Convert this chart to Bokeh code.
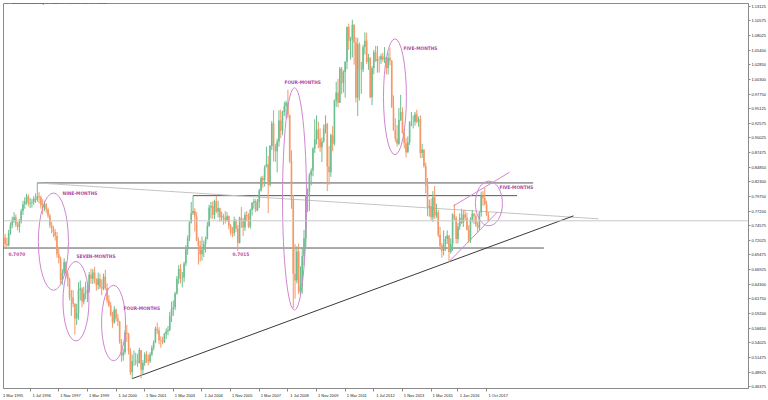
from bokeh.plotting import figure
from bokeh.models import Range1d, FixedTicker, Span, Label, ColumnDataSource
from bokeh.core.properties import value
from bokeh.embed import file_html
from bokeh.resources import INLINE

# ---------------- data: AUDUSD monthly bars, first bar = Mar 1995 ----------------
first_open = 0.7330
close = [
    .7280, .7250, .7140, .7120, .7330, .7470, .7560, .7610, .7480, .7440,                 # 1995 Mar-Dec
    .7530, .7720, .7840, .7890, .7980, .7850, .7870, .7880, .7940, .7920, .7980, .7960,   # 1996
    .7820, .7780, .7840, .7750, .7640, .7470, .7420, .7350, .7280, .6960, .6890, .6510,   # 1997
    .6630, .6820, .6620, .6520, .6200, .6200, .6090, .5830, .5930, .6330, .6360, .6130,   # 1998
    .6270, .6280, .6330, .6600, .6530, .6640, .6500, .6420, .6530, .6380, .6360, .6570,   # 1999
    .6370, .6150, .6060, .5890, .5760, .5990, .5830, .5780, .5430, .5180, .5240, .5580,   # 2000
    .5560, .5260, .4890, .5080, .5080, .5090, .5050, .5280, .4930, .5050, .5200, .5110,   # 2001
    .5080, .5200, .5320, .5410, .5650, .5620, .5450, .5440, .5420, .5560, .5610, .5630,   # 2002
    .5870, .6000, .6030, .6270, .6530, .6700, .6550, .6550, .6800, .7050, .7240, .7520,   # 2003
    .7680, .7720, .7620, .7200, .7110, .6960, .7040, .7140, .7230, .7460, .7780, .7810,   # 2004
    .7650, .7890, .7710, .7770, .7610, .7630, .7600, .7560, .7630, .7460, .7340, .7330,   # 2005
    .7550, .7410, .7160, .7600, .7560, .7430, .7650, .7630, .7450, .7740, .7860, .7890,   # 2006
    .7730, .7880, .8080, .8300, .8260, .8490, .8540, .8180, .8860, .9260, .8850, .8770,   # 2007
    .8940, .9310, .9130, .9460, .9560, .9620, .9410, .8600, .7930, .6620, .6500, .7010,   # 2008
    .6300, .6390, .6930, .7240, .7990, .8060, .8350, .8430, .8820, .8980, .9150, .8990,   # 2009
    .8840, .8940, .9170, .9250, .8500, .8400, .9050, .8900, .9660, .9800, .9620, 1.0220,  # 2010
    .9970, 1.0160, 1.0340, 1.0950, 1.0710, 1.0730, 1.0990, 1.0680, .9710, 1.0650, 1.0200, 1.0200,  # 2011
    1.0600, 1.0710, 1.0340, 1.0410, .9720, 1.0230, 1.0510, 1.0350, 1.0390, 1.0380, 1.0440, 1.0380, # 2012
    1.0420, 1.0230, 1.0410, 1.0360, .9550, .9140, .8990, .8900, .9320, .9460, .9090, .8910,  # 2013
    .8750, .8930, .9280, .9290, .9290, .9420, .9290, .9330, .8740, .8800, .8510, .8170,   # 2014
    .7780, .7810, .7610, .7960, .7640, .7700, .7300, .7110, .7020, .7130, .7230, .7290,   # 2015
    .7000, .7140, .7660, .7600, .7230, .7450, .7600, .7510, .7660, .7600, .7390, .7210,   # 2016
    .7570, .7670, .7630, .7480, .7430, .7690, .7990, .7950, .7840, .7650, .7548,          # 2017 Jan-Nov
]
high = [
    .7400, .7370, .7320, .7250, .7390, .7520, .7620, .7700, .7660, .7530,
    .7580, .7760, .7900, .7960, .8020, .8010, .7950, .7930, .7980, .8030, .8213, .8050,
    .7990, .7930, .7900, .7860, .7780, .7670, .7530, .7460, .7400, .7350, .7090, .6920,
    .6700, .6890, .6840, .6650, .6550, .6330, .6330, .6100, .6090, .6470, .6500, .6380,
    .6390, .6480, .6430, .6650, .6710, .6700, .6740, .6540, .6640, .6620, .6520, .6620,
    .6690, .6450, .6240, .6120, .5950, .6050, .6010, .5910, .5790, .5470, .5300, .5630,
    .5720, .5580, .5310, .5200, .5270, .5230, .5210, .5320, .5280, .5100, .5240, .5260,
    .5200, .5240, .5360, .5450, .5690, .5760, .5680, .5520, .5510, .5580, .5660, .5700,
    .5950, .6130, .6150, .6300, .6580, .6770, .6790, .6650, .6830, .7120, .7290, .7540,
    .7880, .7990, .7770, .7700, .7260, .7200, .7270, .7200, .7270, .7530, .7830, .7880,
    .7890, .7920, .7990, .7900, .7780, .7710, .7670, .7720, .7700, .7640, .7490, .7440,
    .7620, .7580, .7470, .7620, .7790, .7600, .7700, .7720, .7680, .7760, .7880, .7940,
    .7930, .7930, .8110, .8330, .8340, .8520, .8850, .8690, .8880, .9300, .9490, .8900,
    .8990, .9490, .9500, .9480, .9640, .9660, .9850, .9410, .8790, .8000, .7140, .7100,
    .7150, .6750, .7080, .7390, .8000, .8120, .8390, .8470, .8840, .9330, .9400, .9290,
    .9170, .9010, .9240, .9400, .9270, .8860, .9080, .9210, .9680, .9990, 1.0040, 1.0250,
    1.0250, 1.0190, 1.0350, 1.0960, 1.1010, 1.0780, 1.1080, 1.1000, 1.0770, 1.0760, 1.0680, 1.0340,
    1.0640, 1.0860, 1.0850, 1.0480, 1.0420, 1.0270, 1.0550, 1.0620, 1.0620, 1.0440, 1.0480, 1.0500,
    1.0600, 1.0420, 1.0500, 1.0590, 1.0370, .9750, .9350, .9230, .9530, .9760, .9540, .9160,
    .9000, .9030, .9300, .9460, .9400, .9460, .9500, .9380, .9400, .8900, .8800, .8570,
    .8300, .7920, .7940, .8070, .8160, .7850, .7740, .7440, .7160, .7380, .7280, .7380,
    .7190, .7240, .7680, .7840, .7630, .7510, .7680, .7760, .7730, .7740, .7690, .7470,
    .7610, .7740, .7690, .7660, .7530, .7710, .8060, .8070, .8125, .7900, .7700,
]
low = [
    .7190, .7120, .7070, .7090, .7100, .7300, .7420, .7510, .7440, .7380,
    .7340, .7500, .7650, .7760, .7830, .7800, .7770, .7780, .7830, .7860, .7880, .7850,
    .7760, .7660, .7720, .7690, .7600, .7420, .7330, .7260, .7200, .6900, .6800, .6450,
    .6420, .6600, .6550, .6390, .6150, .5880, .6030, .5550, .5720, .5810, .6150, .6030,
    .6080, .6170, .6120, .6280, .6440, .6440, .6450, .6320, .6340, .6350, .6240, .6330,
    .6330, .6100, .6030, .5870, .5670, .5740, .5780, .5700, .5390, .5070, .5090, .5200,
    .5420, .5200, .4840, .4775, .5000, .5010, .4980, .5040, .4780, .4850, .5000, .5050,
    .5010, .5050, .5170, .5270, .5400, .5560, .5380, .5320, .5380, .5400, .5470, .5540,
    .5610, .5770, .5880, .5980, .6250, .6440, .6450, .6380, .6470, .6750, .6950, .7190,
    .7500, .7650, .7360, .7190, .6780, .6830, .6850, .6910, .6990, .7220, .7440, .7590,
    .7580, .7580, .7680, .7610, .7530, .7540, .7480, .7500, .7530, .7400, .7290, .7260,
    .7280, .7350, .7017, .7150, .7420, .7280, .7370, .7540, .7420, .7410, .7640, .7760,
    .7700, .7720, .7770, .8060, .8130, .8150, .8500, .7680, .8150, .8790, .8590, .8580,
    .8400, .8850, .9000, .9050, .9390, .9360, .9350, .8560, .7760, .6010, .6180, .6450,
    .6260, .6250, .6270, .6760, .7070, .7700, .7720, .8170, .8330, .8740, .8890, .8820,
    .8760, .8580, .8920, .9080, .8070, .8180, .8320, .8770, .8870, .9550, .9540, .9620,
    .9770, .9800, .9710, 1.0210, 1.0550, 1.0380, 1.0420, 1.0290, .9630, .9390, .9660, .9780,
    1.0160, 1.0470, 1.0300, 1.0200, .9700, .9580, 1.0120, 1.0340, 1.0150, 1.0150, 1.0300, 1.0340,
    1.0320, 1.0120, 1.0120, 1.0280, .9530, .9130, .8930, .8850, .8880, .9300, .9080, .8820,
    .8660, .8740, .8880, .9210, .9170, .9220, .9260, .9200, .8650, .8650, .8480, .8030,
    .7630, .7620, .7560, .7530, .7580, .7600, .7260, .7040, .6900, .6940, .7020, .7140,
    .6830, .6970, .7020, .7560, .7150, .7150, .7390, .7490, .7440, .7550, .7380, .7160,
    .7160, .7520, .7490, .7440, .7330, .7380, .7620, .7810, .7820, .7630, .7530,
]

# x-axis: date labels every 16 bars (MT4 style)
x_tick_bars = [0, 16, 32, 48, 64, 80, 96, 112, 128, 144, 160, 176, 192, 208, 224, 240, 255, 271]
x_tick_labels = ["1 Mar 1995", "1 Jul 1996", "1 Nov 1997", "1 Mar 1999", "1 Jul 2000",
                 "1 Nov 2001", "1 Mar 2003", "1 Jul 2004", "1 Nov 2005", "1 Mar 2007",
                 "1 Jul 2008", "1 Nov 2009", "1 Mar 2011", "1 Jul 2012", "1 Nov 2013",
                 "1 Mar 2015", "1 Jun 2016", "1 Oct 2017"]
# price scale
y_ticks = [1.13125, 1.10575, 1.08025, 1.05400, 1.02850, 1.00300, 0.97750, 0.95125, 0.92575,
           0.90025, 0.87475, 0.84850, 0.82300, 0.79750, 0.77200, 0.74575, 0.72025, 0.69475,
           0.66925, 0.64300, 0.61750, 0.59200, 0.56650, 0.54025, 0.51475, 0.48925, 0.46375]
y_tick_labels = ["1.13125", "1.10575", "1.08025", "1.05400", "1.02850", "1.00300", "0.97750",
                 "0.95125", "0.92575", "0.90025", "0.87475", "0.84850", "0.82300", "0.79750",
                 "0.77200", "0.74575", "0.72025", "0.69475", "0.66925", "0.64300", "0.61750",
                 "0.59200", "0.56650", "0.54025", "0.51475", "0.48925", "0.46375"]
last_price = 0.7548
title_text = "AUDUSD,Monthly 0.75640 0.75533 0.75471 0.75480"

# drawn objects (time in bars, price)
hlines_price = [0.8213, 0.7990, 0.7070]
hlines_start = [20, 107, 0]
hlines_end = [297, 288, 303]
grey_diag = ([20, 333.5], [0.8213, 0.7583])
trend_line = ([73, 319.6], [0.4775, 0.7635])
channel_up = ([252.5, 283.8], [0.7810, 0.8400])
channel_dn = ([250, 277.1], [0.6830, 0.7705])
ell_x = [29.0, 41.6, 62.6, 163.7, 219.8, 272.3]
ell_y = [0.7182, 0.6136, 0.5753, 0.7932, 0.9727, 0.7853]
ell_w = [16.8, 14.5, 13.4, 13.4, 12.8, 15.1]
ell_h = [0.1708, 0.1394, 0.1325, 0.3904, 0.2039, 0.0784]
note_x = [34.1, 41.9, 68.2, 158.1, 224.6, 278.2]
note_y = [0.8019, 0.6921, 0.6014, 0.9971, 1.0581, 0.8141]
note_text = ["NINE-MONTHS", "SEVEN-MONTHS", "FOUR-MONTHS", "FOUR-MONTHS", "FIVE-MONTHS", "FIVE-MONTHS"]
level_x = [3.9, 129.1]
level_y = [0.6973, 0.6973]
level_text = ["0.7070", "0.7015"]

# ---------------- build ----------------
n = len(close)
xs = list(range(n))
opens = [first_open] + close[:-1]
hi = [max(h, o, c) for h, o, c in zip(high, opens, close)]
lo = [min(l, o, c) for l, o, c in zip(low, opens, close)]
UP, DN = "#6cbf8e", "#f59866"
colors = [UP if c >= o else DN for o, c in zip(opens, close)]
src = ColumnDataSource(dict(x=xs, h=hi, l=lo,
                            top=[max(o, c) for o, c in zip(opens, close)],
                            bot=[min(o, c) for o, c in zip(opens, close)], col=colors))

xr = Range1d(1.117, 417.32)
yr = Range1d(0.46027, 1.13648)
p = figure(width=768, height=400, output_backend="svg", toolbar_location=None,
           x_range=xr, y_range=yr, y_axis_location="right",
           min_border_left=3, min_border_top=3, min_border_right=20, min_border_bottom=9)
p.background_fill_color = "white"
p.border_fill_color = "white"
p.outline_line_color = "#8a8a8a"
p.grid.visible = False

FONT = "Liberation Sans"
NOTE_FONT = "DejaVu Sans Condensed, Liberation Sans Narrow, Liberation Sans"
for ax in (p.xaxis[0], p.yaxis[0]):
    ax.axis_line_color = "#8a8a8a"
    ax.major_tick_line_color = "#8a8a8a"
    ax.minor_tick_line_color = "#8a8a8a"
    ax.major_tick_in = 0
    ax.minor_tick_in = 0
    ax.major_label_text_font = FONT
    ax.major_label_text_font_size = "4px"
    ax.major_label_text_color = "#222222"

# x axis: tick marks at the labelled bars, text placed just right of them
label_shift = 6.5
p.xaxis.ticker = FixedTicker(ticks=[b + label_shift for b in x_tick_bars], minor_ticks=x_tick_bars)
p.xaxis.major_label_overrides = {b + label_shift: t for b, t in zip(x_tick_bars, x_tick_labels)}
p.xaxis.major_tick_out = 0
p.xaxis.major_tick_line_color = None
p.xaxis.minor_tick_out = 3
p.xaxis.major_label_standoff = 1

p.yaxis.ticker = FixedTicker(ticks=y_ticks)
p.yaxis.major_label_overrides = {v: t for v, t in zip(y_ticks, y_tick_labels)}
p.yaxis.major_tick_out = 2
p.yaxis.minor_tick_line_color = None
p.yaxis.major_label_standoff = 1

# bid line
p.add_layout(Span(location=last_price, dimension="width", line_color="#c8c8c8", line_width=1))

# drawn lines
p.segment(x0=hlines_start, y0=hlines_price, x1=hlines_end, y1=hlines_price, line_color="#555555", line_width=1)
p.line(grey_diag[0], grey_diag[1], line_color="#c4c4c4", line_width=1)
p.line(trend_line[0], trend_line[1], line_color="#3a3a3a", line_width=1)

# candles
p.segment(x0="x", y0="l", x1="x", y1="h", line_color="col", line_width=1, source=src)
p.vbar(x="x", width=0.9, top="top", bottom="bot", fill_color="col", line_color=None, source=src)

# purple objects
PURPLE_L = "#cf86cf"
PURPLE_T = "#a94aa9"
p.line(channel_up[0], channel_up[1], line_color=PURPLE_L, line_width=1)
p.line(channel_dn[0], channel_dn[1], line_color=PURPLE_L, line_width=1)
p.ellipse(x=ell_x, y=ell_y, width=ell_w, height=ell_h, fill_color=None, line_color=PURPLE_L, line_width=1)
p.text(x=note_x, y=note_y, text=note_text, text_font=value(NOTE_FONT),
       text_font_style="bold", text_font_size="4.8px", text_color=PURPLE_T,
       text_align="left", text_baseline="middle")
p.text(x=level_x, y=level_y, text=level_text, text_font=value(NOTE_FONT),
       text_font_style="bold", text_font_size="4.8px", text_color=PURPLE_T,
       text_align="left", text_baseline="middle")

# title and current price box
p.add_layout(Label(x=1, y=386, x_units="screen", y_units="screen", text="\u25bc",
                   text_font=FONT, text_font_size="4px", text_color="#222222", text_baseline="middle"))
p.add_layout(Label(x=9, y=386, x_units="screen", y_units="screen", text=title_text,
                   text_font=FONT, text_font_size="4px", text_color="#222222", text_baseline="middle"))
p.add_layout(Label(x=748, y=last_price, x_units="screen", y_units="data", text="0.75480",
                   text_font=FONT, text_font_size="4px", text_color="white", text_baseline="middle",
                   background_fill_color="black", padding=1))

open("out.html", "w").write(file_html(p, INLINE))
